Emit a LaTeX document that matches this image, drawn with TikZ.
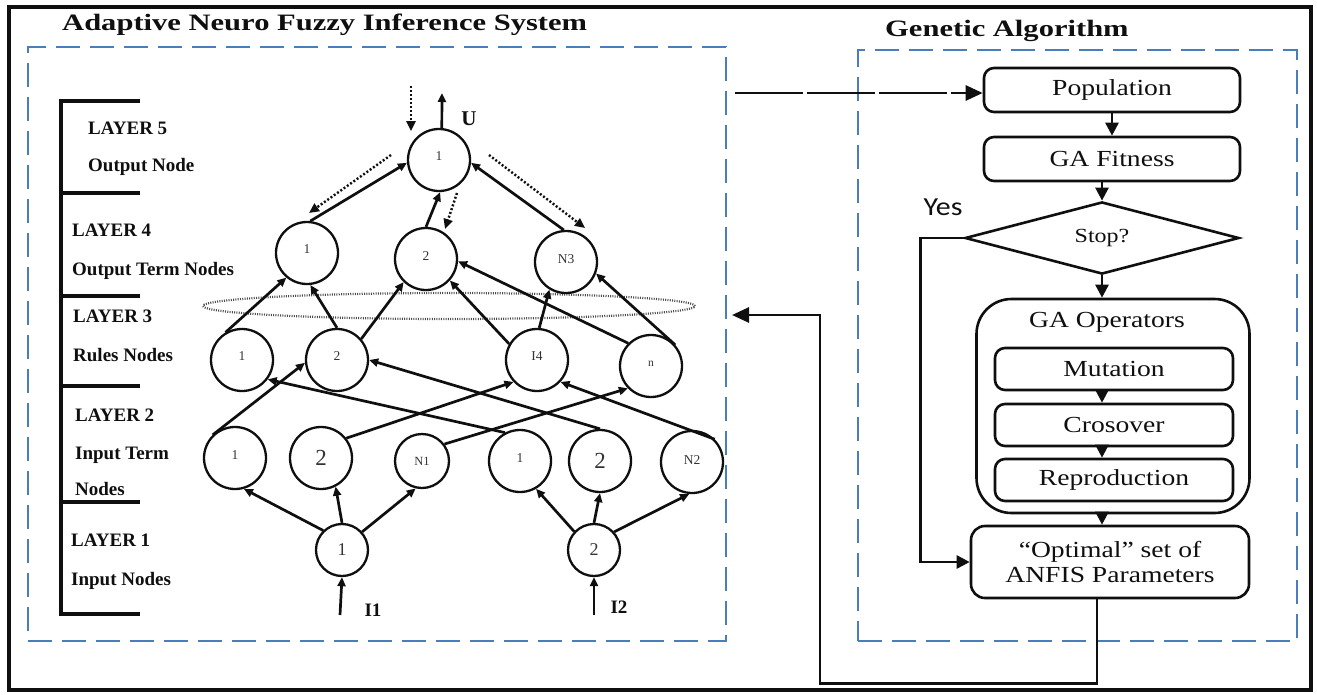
\documentclass[tikz,border=0pt]{standalone}
\usepackage{fontspec}
\setmainfont{Liberation Serif}[FakeStretch=1.2]
\newfontfamily\plainserif{Liberation Serif}
\newfontfamily\titleserif{Liberation Serif}[FakeStretch=1.3]
\newfontfamily\yesfont{Carlito}[FakeStretch=1.15]
\usetikzlibrary{arrows.meta,shapes.geometric}
\definecolor{dashblue}{RGB}{74,126,187}
\definecolor{ink}{RGB}{15,15,15}
\tikzset{
  neuron/.style={circle, draw=ink, line width=2.3pt, minimum size=62pt, inner sep=0pt,
    font=\plainserif\fontsize{13.5}{13.5}\selectfont, text=ink!85},
  smallneuron/.style={neuron, minimum size=54pt},
  netarrow/.style={draw=ink, line width=2.7pt, -{Triangle[length=9pt,width=8pt]}},
  dotarrow/.style={draw=ink, line width=2.4pt, dash pattern=on 2pt off 2pt, -{Triangle[length=10pt,width=9pt]}},
  dbox/.style={draw=dashblue, line width=2.4pt, dash pattern=on 24pt off 10pt, inner sep=0pt},
  layerlab/.style={anchor=base west, font=\plainserif\bfseries\fontsize{19}{19}\selectfont, text=ink, inner sep=0pt},
  titlelab/.style={anchor=base west, font=\titleserif\bfseries\fontsize{23.5}{24}\selectfont, text=ink, inner sep=0pt},
  gabox/.style={draw=ink, line width=2.6pt, rounded corners=10pt, minimum width=256pt, minimum height=44pt,
    inner sep=0pt, font=\fontsize{23}{25}\selectfont, text=ink},
  opbox/.style={gabox, minimum width=238pt, minimum height=42pt},
  gaarrow/.style={draw=ink, line width=2.6pt, -{Triangle[length=13pt,width=13pt]}},
  bigarrow/.style={draw=ink, line width=2.8pt, -{Triangle[length=17pt,width=15pt]}},
}
\begin{document}
\begin{tikzpicture}[x=1pt,y=-1pt]
\useasboundingbox (0,0) rectangle (1317,694);
% outer frame
\draw[line width=4.5pt, ink] (9,7) rectangle (1311,690);

% titles
\node[titlelab] (t1) at (62,30) {Adaptive Neuro Fuzzy Inference System};
\node[titlelab] (t2) at (885,36) {Genetic Algorithm};

% dashed group boxes
\node[dbox, minimum width=698pt, minimum height=594pt] (anfis) at (377,344) {};
\node[dbox, minimum width=439pt, minimum height=591pt] (gabig) at (1077.5,345.5) {};

% layer bracket
\draw[line width=3.2pt, ink] (140,101) -- (61,101) -- (61,614) -- (140,614);
\foreach \yy in {193,296,386,502} \draw[line width=3.2pt, ink] (61,\yy) -- (140,\yy);

% layer labels
\node[layerlab] (la5) at (88,134) {LAYER 5};
\node[layerlab] (lb5) at (88,171) {Output Node};
\node[layerlab] (la4) at (72,236) {LAYER 4};
\node[layerlab] (lb4) at (72,275) {Output Term Nodes};
\node[layerlab] (la3) at (73,322) {LAYER 3};
\node[layerlab] (lb3) at (73,361) {Rules Nodes};
\node[layerlab] (la2) at (75,421) {LAYER 2};
\node[layerlab] (lb2) at (75,459) {Input Term};
\node[layerlab] (lc2) at (75,495) {Nodes};
\node[layerlab] (la1) at (71,546) {LAYER 1};
\node[layerlab] (lb1) at (71,585) {Input Nodes};

% dotted ellipse
\draw[gray!60!black, line width=2.2pt, dash pattern=on 1pt off 1.3pt] (449,306) ellipse [x radius=246pt, y radius=13pt];

% neurons
\node[neuron] (l5) at (439,160) {\raisebox{7pt}{1}};
\node[neuron] (l4a) at (307,253) {\raisebox{7pt}{1}};
\node[neuron] (l4b) at (426,259) {\raisebox{6pt}{2}};
\node[neuron] (l4c) at (566,262) {\raisebox{5pt}{N3}};
\node[neuron] (l3a) at (242,360) {\raisebox{7pt}{1}};
\node[neuron] (l3b) at (337,360) {\raisebox{7pt}{2}};
\node[neuron] (l3c) at (537,360) {\raisebox{7pt}{I4}};
\node[neuron] (l3d) at (651,366) {\raisebox{4pt}{\fontsize{11.5}{11.5}\selectfont n}};
\node[neuron] (l2a) at (235,458) {\raisebox{6pt}{1}};
\node[neuron, font=\plainserif\fontsize{23}{23}\selectfont] (l2b) at (321,458) {2};
\node[smallneuron, font=\plainserif\fontsize{12.5}{12.5}\selectfont] (l2c) at (422,461) {N1};
\node[neuron] (l2d) at (520,461) {\raisebox{6pt}{1}};
\node[neuron, font=\plainserif\fontsize{23}{23}\selectfont] (l2e) at (600,461) {2};
\node[neuron, font=\plainserif\fontsize{13.5}{13.5}\selectfont] (l2f) at (692,462) {\raisebox{4pt}{N2}};
\node[smallneuron, minimum size=52pt, font=\plainserif\fontsize{18}{18}\selectfont] (l1a) at (342,550) {1};
\node[smallneuron, minimum size=52pt, font=\plainserif\fontsize{18}{18}\selectfont] (l1b) at (594,550) {2};

% output / inputs
\coordinate (uend) at (442,93);
\draw[netarrow] (l5.85) -- (uend);
\node[font=\plainserif\bfseries\fontsize{21}{21}\selectfont, text=ink] (ulab) at (469,119) {U};
\coordinate (in1) at (340,615);
\coordinate (in2) at (594,615);
\draw[netarrow] (in1) -- (l1a.270);
\draw[netarrow] (in2) -- (l1b.270);
\node[font=\plainserif\bfseries\fontsize{19}{19}\selectfont, text=ink] (i1lab) at (373,610) {I1};
\node[font=\plainserif\bfseries\fontsize{19}{19}\selectfont, text=ink] (i2lab) at (619,607) {I2};

% dotted arrows
\coordinate (d1a) at (411,86);  \coordinate (d1b) at (411,131);
\coordinate (d2a) at (391,155); \coordinate (d2b) at (309,213);
\coordinate (d3a) at (489,155); \coordinate (d3b) at (585,228);
\coordinate (d4a) at (457,193); \coordinate (d4b) at (445,229);
\draw[dotarrow] (d1a) -- (d1b);
\draw[dotarrow] (d2a) -- (d2b);
\draw[dotarrow] (d3a) -- (d3b);
\draw[dotarrow] (d4a) -- (d4b);

% layer 4 -> 5
\draw[netarrow] (l4a.84) -- (l5.185);
\draw[netarrow] (l4b.90) -- (l5.272);
\draw[netarrow] (l4c.94) -- (l5.-5);
% layer 3 -> 4
\draw[netarrow] (l3a.121) -- (l4a.230);
\draw[netarrow] (l3b.90) -- (l4a.276);
\draw[netarrow] (l3b.41) -- (l4b.226);
\draw[netarrow] (l3c.150) -- (l4b.318);
\draw[netarrow] (l3c.86) -- (l4c.239);
\draw[netarrow] (l3d.135) -- (l4b.356);
\draw[netarrow] (l3d.41) -- (l4c.339);
% layer 2 -> 3
\draw[netarrow] (l2a.134) -- (l3b.185);
\draw[netarrow] (l2b.38) -- (l3c.223);
\draw[netarrow] (l2c.37) -- (l3d.224);
\draw[netarrow] (l2d.118) -- (l3a.323);
\draw[netarrow] (l2e.90) -- (l3b.0);
\draw[netarrow] (l2f.45) -- (l3c.317);
% layer 1 -> 2
\draw[netarrow] (l1a.134) -- (l2a.286);
\draw[netarrow] (l1a.90) -- (l2b.297);
\draw[netarrow] (l1a.42) -- (l2c.257);
\draw[netarrow] (l1b.137) -- (l2d.300);
\draw[netarrow] (l1b.90) -- (l2e.270);
\draw[netarrow] (l1b.42) -- (l2f.265);

% GA flowchart
\node[gabox] (pop) at (1112,90) {Population};
\node[gabox] (fit) at (1112,159) {GA Fitness};
\node[diamond, draw=ink, line width=2.6pt, minimum width=274pt, minimum height=71pt, inner sep=0pt,
  font=\fontsize{20}{20}\selectfont, text=ink] (stop) at (1102,238) {Stop?};
\node[draw=ink, line width=2.6pt, rounded corners=35pt, minimum width=273pt, minimum height=214pt, inner sep=0pt] (gaops) at (1113,406) {};
\node[font=\fontsize{23}{25}\selectfont, text=ink] (gaopt) at (1107,322) {GA Operators};
\node[opbox] (mut) at (1114,369) {Mutation};
\node[opbox] (cros) at (1114,425) {Crosover};
\node[opbox] (repr) at (1114,480) {Reproduction};
\node[gabox, minimum width=278pt, minimum height=72pt, align=center, rounded corners=14pt] (opt) at (1110,562) {“Optimal” set of\\ANFIS Parameters};
\node[font=\yesfont\fontsize{26}{26}\selectfont, text=ink] (yes) at (943,207) {Yes};

\draw[gaarrow] (pop) -- (fit);
\draw[gaarrow] (fit.south -| stop.north) -- (stop.north);
\draw[gaarrow] (stop.south) -- (stop.south |- gaops.north);
\draw[gaarrow] (mut.south -| stop.south) -- (cros.north -| stop.south);
\draw[gaarrow] (cros.south -| stop.south) -- (repr.north -| stop.south);
\draw[gaarrow] (gaops.south -| stop.south) -- (opt.north -| stop.south);
\draw[gaarrow] (stop.west) -- ++(-43,0) |- (opt.west);

% connections between the two systems
\coordinate (popstart) at (735,93);
\draw[bigarrow, dash pattern=on 68pt off 4pt] (popstart) -- (popstart -| pop.west);
\coordinate (retcorner) at (820,315);
\coordinate (retend) at (732,315);
\draw[bigarrow] ([xshift=-13pt]opt.south) -- ++(0,84) -| (retcorner) -- (retend);
\end{tikzpicture}
\end{document}
